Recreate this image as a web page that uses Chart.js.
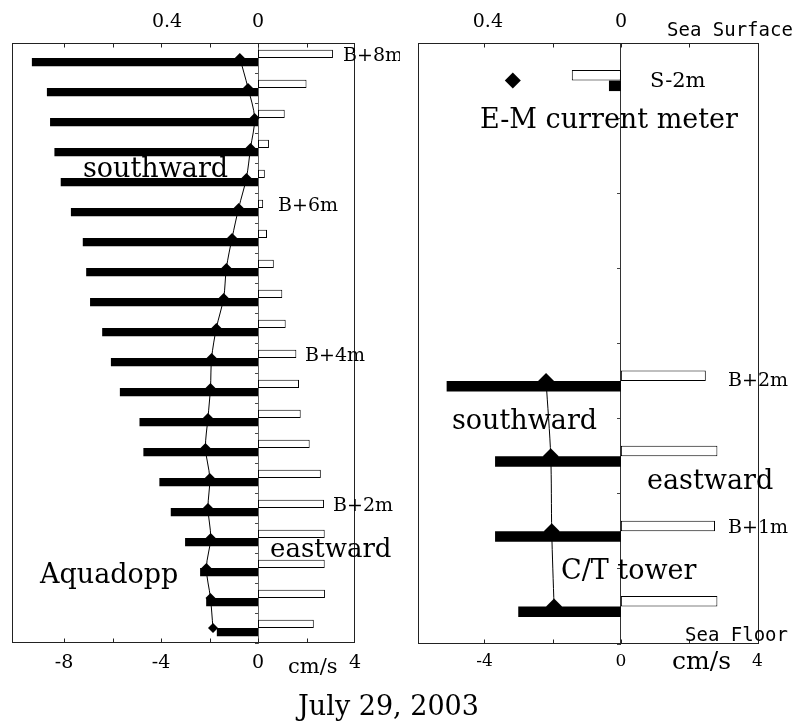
<!DOCTYPE html>
<html>
<head>
<meta charset="utf-8">
<script src="https://cdn.jsdelivr.net/npm/chart.js@4.4.1/dist/chart.umd.min.js"></script>
<style>
  html, body { margin: 0; padding: 0; background: #fff; }
  body { width: 798px; height: 725px; position: relative; overflow: hidden; }
  #aquadopp { position: absolute; left: 0; top: 0; }
  #ctTower { position: absolute; left: 400px; top: 0; }
  #date { position: absolute; left: 0; width: 777px; top: 690px; text-align: center;
          font: 27px "DejaVu Serif"; line-height: 31px; color: #000; }
</style>
</head>
<body>
<canvas id="aquadopp" width="400" height="725"></canvas>
<canvas id="ctTower" width="398" height="725"></canvas>
<div id="date">July 29, 2003</div>
<script>
// Aquadopp profile: 0.4 m bins from B+8m down to B+0.4m (cm/s)
const aquaLevels = ['B+8m', 'B+7.6m', 'B+7.2m', 'B+6.8m', 'B+6.4m', 'B+6m', 'B+5.6m', 'B+5.2m', 'B+4.8m', 'B+4.4m',
                    'B+4m', 'B+3.6m', 'B+3.2m', 'B+2.8m', 'B+2.4m', 'B+2m', 'B+1.6m', 'B+1.2m', 'B+0.8m', 'B+0.4m'];
const aquaEast  = [3.09, 2.00, 1.10, 0.45, 0.28, 0.21, 0.37, 0.65, 1.00, 1.14,
                   1.58, 1.69, 1.76, 2.13, 2.59, 2.72, 2.75, 2.75, 2.76, 2.30];
const aquaSouth = [-9.33, -8.71, -8.58, -8.40, -8.14, -7.72, -7.23, -7.09, -6.93, -6.43,
                   -6.07, -5.70, -4.89, -4.73, -4.07, -3.60, -3.01, -2.39, -2.14, -1.70];
const aquaUpper = [0.080, 0.044, 0.015, 0.033, 0.051, 0.085, 0.114, 0.139, 0.151, 0.183,
                   0.204, 0.209, 0.220, 0.231, 0.212, 0.220, 0.208, 0.227, 0.209, 0.198];

// E-M current meter (S-2m) and C/T tower sensors (cm/s)
const ctLevels = ['S-2m', '', ' ', '  ', 'B+2m', 'B+1.5m', 'B+1m', 'B+0.5m'];
const ctEast   = [-1.44, null, null, null, 2.49, 2.83, 2.76, 2.83];
const ctSouth  = [-0.35, null, null, null, -5.11, -3.69, -3.69, -3.01];
const ctUpper  = [0.325, null, null, null, 0.225, 0.211, 0.208, 0.201];

// Axis ticks
const aquaTicks  = [-8, -6, -4, -2, 0, 2, 4];
const ctTicks    = [-4, -2, 0, 2, 4];
const upperTicks = [0.4, 0];

Chart.defaults.font.family = '"DejaVu Serif"';
Chart.defaults.color = '#000';

const SERIF = '"DejaVu Serif"';
const MONO = '"DejaVu Sans Mono"';

// Plot frame, inward tick marks and free text labels
const framePlugin = {
  id: 'frame',
  afterDatasetsDraw(chart, args, opts) {
    const { ctx, chartArea: a, scales } = chart;
    ctx.save();
    ctx.strokeStyle = '#222';
    ctx.lineWidth = 1;
    const L = Math.round(a.left) + 0.5, T = Math.round(a.top) + 0.5;
    const R = Math.round(a.right) - 0.5, B = Math.round(a.bottom) - 0.5;
    ctx.strokeRect(L, T, R - L, B - T);
    const xs = scales.x;
    xs.ticks.forEach(t => {
      const px = Math.round(xs.getPixelForValue(t.value)) + 0.5;
      if (px < L + 3 || px > R - 3) return;
      ctx.beginPath();
      ctx.moveTo(px, B); ctx.lineTo(px, B - 4);
      ctx.moveTo(px, T); ctx.lineTo(px, T + 4);
      ctx.stroke();
    });
    ctx.fillStyle = '#000';
    (opts.texts || []).forEach(t => {
      ctx.font = t.font;
      ctx.textAlign = 'left';
      ctx.textBaseline = t.row !== undefined ? 'middle' : 'alphabetic';
      const y = t.row !== undefined ? scales.y.getPixelForValue(t.row) + t.dy : t.y;
      ctx.fillText(t.text, t.x, y);
    });
    ctx.restore();
  }
};

function profileChart(id, c) {
  return new Chart(document.getElementById(id), {
    type: 'bar',
    data: {
      labels: c.levels,
      datasets: [
        { label: 'eastward', data: c.east, xAxisID: 'x', yAxisID: 'y',
          backgroundColor: '#fff', borderColor: '#000', borderWidth: 1, borderSkipped: false,
          categoryPercentage: c.cp, barPercentage: 1 },
        { label: 'southward', data: c.south, xAxisID: 'x', yAxisID: 'y',
          backgroundColor: '#000', borderWidth: 0,
          categoryPercentage: c.cp, barPercentage: 1 },
        { type: 'line', label: 'upper', data: c.upper, indexAxis: 'y', xAxisID: 'xTop', yAxisID: 'y',
          order: -1, borderColor: '#000', borderWidth: 1, tension: 0.3, spanGaps: false,
          pointStyle: 'rectRot', pointRadius: c.r, pointBackgroundColor: '#000',
          pointBorderColor: '#000', pointBorderWidth: 0 }
      ]
    },
    options: {
      indexAxis: 'y',
      responsive: false,
      animation: false,
      events: [],
      layout: { padding: { left: c.padL, right: c.padR, top: 0, bottom: 0 } },
      plugins: {
        legend: { display: false },
        tooltip: { enabled: false },
        frame: { texts: c.texts }
      },
      scales: {
        x: {
          type: 'linear', position: 'bottom', min: c.xMin, max: c.xMax,
          afterBuildTicks: s => { s.ticks = c.ticks.map(v => ({ value: v })); },
          afterFit: s => { s.height = c.bottomH; },
          grid: { display: false, drawTicks: false },
          border: { display: false },
          ticks: {
            padding: c.bottomPad,
            font: { family: SERIF, size: c.bottomFont },
            color: '#000',
            maxRotation: 0,
            callback: v => (v % 4 === 0 ? String(v) : '')
          }
        },
        xTop: {
          type: 'linear', position: 'top', reverse: true, min: c.topMin, max: c.topMax,
          afterBuildTicks: s => { s.ticks = upperTicks.map(v => ({ value: v })); },
          afterFit: s => { s.height = 43; },
          grid: { display: false, drawTicks: false },
          border: { display: false },
          ticks: { padding: 10, font: { family: SERIF, size: 19 }, color: '#000', maxRotation: 0 }
        },
        y: {
          type: 'category', position: { x: 0 }, offset: true,
          grid: { display: true, drawOnChartArea: false, offset: true, tickLength: 3, color: '#444' },
          border: { display: true, color: c.zeroColor, dash: c.zeroDash, width: 1 },
          ticks: { display: false }
        }
      }
    },
    plugins: [framePlugin]
  });
}

profileChart('aquadopp', {
  levels: aquaLevels, east: aquaEast, south: aquaSouth, upper: aquaUpper,
  ticks: aquaTicks, xMin: -10.15, xMax: 4, topMin: -0.426, topMax: 1.081,
  padL: 12, padR: 45, bottomH: 82, bottomPad: 9, bottomFont: 19,
  cp: 0.55, r: 5, zeroColor: '#666', zeroDash: [2, 2],
  texts: [
    { text: 'southward', x: 83, y: 177, font: '27px ' + SERIF },
    { text: 'eastward', x: 270, y: 557, font: '26px ' + SERIF },
    { text: 'Aquadopp', x: 40, y: 583, font: '27px ' + SERIF },
    { text: 'cm/s', x: 288, y: 673, font: '21px ' + SERIF },
    { text: 'B+8m', row: 0, dy: -1.5, x: 343, font: '19px ' + SERIF },
    { text: 'B+6m', row: 5, dy: -1.5, x: 278, font: '19px ' + SERIF },
    { text: 'B+4m', row: 10, dy: -1.5, x: 305, font: '19px ' + SERIF },
    { text: 'B+2m', row: 15, dy: -1.5, x: 333, font: '19px ' + SERIF }
  ]
});

profileChart('ctTower', {
  levels: ctLevels, east: ctEast, south: ctSouth, upper: ctUpper,
  ticks: ctTicks, xMin: -5.95, xMax: 4.05, topMin: -0.415, topMax: 0.610,
  padL: 18, padR: 39, bottomH: 81, bottomPad: 7, bottomFont: 17,
  cp: 0.28, r: 8, zeroColor: '#333', zeroDash: [],
  texts: [
    { text: 'E-M current meter', x: 80, y: 128, font: '27px ' + SERIF },
    { text: 'S-2m', x: 250, y: 87, font: '21px ' + SERIF },
    { text: 'southward', x: 52, y: 429, font: '27px ' + SERIF },
    { text: 'B+2m', x: 328, y: 386, font: '19px ' + SERIF },
    { text: 'eastward', x: 247, y: 489, font: '27px ' + SERIF },
    { text: 'B+1m', x: 328, y: 533, font: '19px ' + SERIF },
    { text: 'C/T tower', x: 161, y: 579, font: '27px ' + SERIF },
    { text: 'Sea Surface', x: 267, y: 36, font: '19px ' + MONO },
    { text: 'Sea Floor', x: 285, y: 641, font: '19px ' + MONO },
    { text: 'cm/s', x: 272, y: 669, font: '25px ' + SERIF }
  ]
});
</script>
</body>
</html>
